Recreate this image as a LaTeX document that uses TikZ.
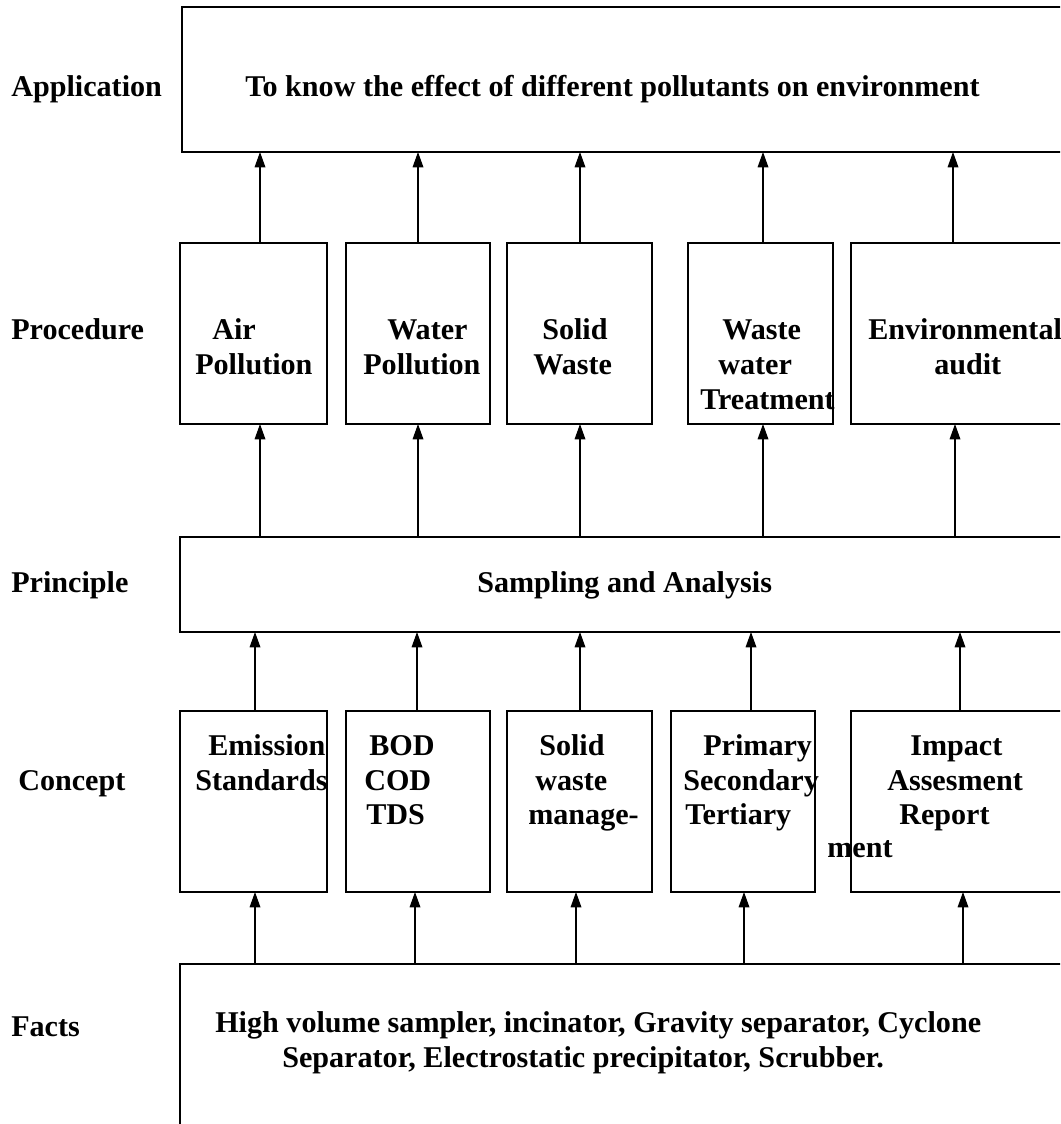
\documentclass[tikz,border=0pt]{standalone}
\usepackage{fontspec}
\setmainfont{Liberation Serif}
\usetikzlibrary{arrows.meta,fit}

\begin{document}
\begin{tikzpicture}[
  x=0.75pt, y=-0.75pt,
  box/.style={draw, line width=1.3pt, inner sep=0pt, outer sep=0pt},
  arr/.style={line width=0.9pt, -{Triangle[length=11.5pt, width=8pt]}},
  txt/.style={font=\bfseries\fontsize{22.6}{26}\selectfont, inner sep=0pt, anchor=base west}
]
\useasboundingbox (0,0) rectangle (1060,1124);
\clip (0,0) rectangle (1060,1124);

% ---------- boxes ----------
\node[box, fit={(182,7) (1080,152)}] (app) {};

\node[box, fit={(180,243) (327,424)}] (p1) {};
\node[box, fit={(346,243) (490,424)}] (p2) {};
\node[box, fit={(507,243) (652,424)}] (p3) {};
\node[box, fit={(688,243) (833,424)}] (p4) {};
\node[box, fit={(851,243) (1080,424)}] (p5) {};

\node[box, fit={(180,537) (1080,632)}] (prin) {};

\node[box, fit={(180,711) (327,892)}] (c1) {};
\node[box, fit={(346,711) (490,892)}] (c2) {};
\node[box, fit={(507,711) (652,892)}] (c3) {};
\node[box, fit={(671,711) (815,892)}] (c4) {};
\node[box, fit={(851,711) (1080,892)}] (c5) {};

\node[box, fit={(180,964) (1080,1140)}] (facts) {};

% ---------- columns of the connectors ----------
\coordinate (a1) at (260,0);  \coordinate (a2) at (418,0);  \coordinate (a3) at (580,0);
\coordinate (a4) at (763,0);  \coordinate (a5) at (953,0);
\coordinate (b1) at (260,0);  \coordinate (b2) at (418,0);  \coordinate (b3) at (580,0);
\coordinate (b4) at (763,0);  \coordinate (b5) at (955,0);
\coordinate (k1) at (255,0);  \coordinate (k2) at (417,0);  \coordinate (k3) at (580,0);
\coordinate (k4) at (751,0);  \coordinate (k5) at (960,0);
\coordinate (d1) at (255,0);  \coordinate (d2) at (415,0);  \coordinate (d3) at (576,0);
\coordinate (d4) at (744,0);  \coordinate (d5) at (963,0);

% ---------- connectors ----------
\foreach \i in {1,...,5} {
  \draw[arr] (a\i |- p\i.north) -- (a\i |- app.south);
  \draw[arr] (b\i |- prin.north) -- (b\i |- p\i.south);
  \draw[arr] (k\i |- c\i.north) -- (k\i |- prin.south);
  \draw[arr] (d\i |- facts.north) -- (d\i |- c\i.south);
}

% ---------- level labels ----------
\node[txt] (lapp)  at (11,96)   {Application};
\node[txt] (lproc) at (11,339)  {Procedure};
\node[txt] (lprin) at (11,592)  {Principle};
\node[txt] (lcon)  at (18,790)  {Concept};
\node[txt] (lfac)  at (11,1036) {Facts};

% ---------- application ----------
\node[txt] (tapp) at (245,96) {To know the effect of different pollutants on environment};

% ---------- procedure ----------
\node[txt] (tp11) at (212,339) {Air};
\node[txt] (tp12) at (195,374) {Pollution};
\node[txt] (tp21) at (387,339) {Water};
\node[txt] (tp22) at (363,374) {Pollution};
\node[txt] (tp31) at (542,339) {Solid};
\node[txt] (tp32) at (533,374) {Waste};
\node[txt] (tp41) at (722,339) {Waste};
\node[txt] (tp42) at (718,374) {water};
\node[txt] (tp43) at (700,409) {Treatment};
\node[txt] (tp51) at (868,339) {Environmental};
\node[txt] (tp52) at (934,374) {audit};

% ---------- principle ----------
\node[txt] (tprin) at (477,592) {Sampling and Analysis};

% ---------- concept ----------
\node[txt] (tc11) at (208,755) {Emission};
\node[txt] (tc12) at (195,790) {Standards};
\node[txt] (tc21) at (369,755) {BOD};
\node[txt] (tc22) at (364,790) {COD};
\node[txt] (tc23) at (366,824) {TDS};
\node[txt] (tc31) at (539,755) {Solid};
\node[txt] (tc32) at (535,790) {waste};
\node[txt] (tc33) at (528,824) {manage-};
\node[txt] (tc41) at (703,755) {Primary};
\node[txt] (tc42) at (683,790) {Secondary};
\node[txt] (tc43) at (685,824) {Tertiary};
\node[txt] (tc51) at (910,755) {Impact};
\node[txt] (tc52) at (887,790) {Assesment};
\node[txt] (tc53) at (899,824) {Report};
\node[txt] (tc34) at (827,857) {ment};

% ---------- facts ----------
\node[txt] (tf1) at (215,1032) {High volume sampler, incinator, Gravity separator, Cyclone};
\node[txt] (tf2) at (282,1067) {Separator, Electrostatic precipitator, Scrubber.};
\end{tikzpicture}
\end{document}
